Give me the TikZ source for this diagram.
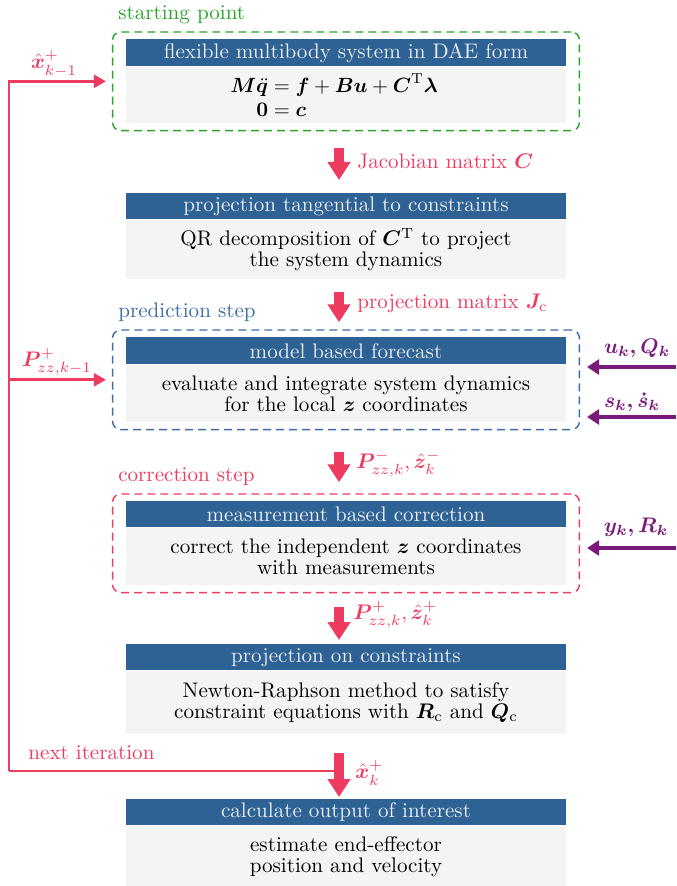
\RequirePackage{fix-cm}
\documentclass[tikz,border=0pt]{standalone}
\usepackage{amsmath,bm}
\usetikzlibrary{arrows.meta,positioning,fit,calc}
\definecolor{hdrblue}{RGB}{46,97,148}
\definecolor{bodygray}{RGB}{244,244,244}
\definecolor{accred}{RGB}{238,60,96}
\definecolor{accpurple}{RGB}{122,26,122}
\definecolor{frgreen}{RGB}{40,165,40}
\definecolor{frblue}{RGB}{60,110,165}
\newsavebox{\eqnbox}
\begin{document}
\fontsize{10.55}{10.5}\selectfont
\setlength{\jot}{1.4pt}%
\sbox{\eqnbox}{\fontsize{10.3}{10.5}\selectfont$\begin{aligned}\bm{M}\ddot{\bm{q}} &= \bm{f}+\bm{B}\bm{u}+\bm{C}^{\mathrm{T}}\bm{\lambda}\\ \bm{0} &= \bm{c}\end{aligned}$}%
\begin{tikzpicture}[x=0.5pt,y=-0.5pt,
 hdr/.style={fill=hdrblue, text=white!90!hdrblue, minimum width=220pt, minimum height=13pt, inner sep=0pt, anchor=north},
 bodybox/.style={fill=bodygray, minimum width=220pt, inner sep=0pt, align=center, anchor=north},
 framebox/.style={draw, dash pattern=on 4pt off 2.5pt, line width=0.7pt, rounded corners=4pt, inner xsep=6.5pt, inner ysep=3.5pt},
 framelabel/.style={anchor=south west, inner xsep=3pt},
 bigarrow/.style={draw=accred, line width=5pt, -{Triangle[width=11pt,length=9pt]}},
 fb/.style={draw=accred, line width=1.3pt},
 fbarrow/.style={fb, -{Triangle[width=6.5pt,length=6pt]}},
 inarrow/.style={draw=accpurple, line width=1.6pt, -{Triangle[width=7.5pt,length=6pt]}},
 redlbl/.style={text=accred},
 purplbl/.style={text=accpurple, font=\boldmath}
]
\useasboundingbox (0,0) rectangle (676,886);

% boxes
\node[hdr, minimum height=13.5pt] (h1) at (346,39) {flexible multibody system in DAE form};
\node[bodybox, minimum height=28pt] (b1) at (h1.south) {};
\node[inner sep=0pt] (e1) at ([xshift=-6pt,yshift=-1.5pt]b1.center) {\usebox{\eqnbox}};

\node[hdr] (h2) at (346,193) {projection tangential to constraints};
\node[bodybox, minimum height=29.5pt] (b2) at (h2.south) {QR decomposition of $\bm{C}^{\mathrm{T}}$ to project\\the system dynamics};

\node[hdr, minimum height=13.5pt] (h3) at (346,337) {model based forecast};
\node[bodybox, minimum height=28.5pt] (b3) at (h3.south) {evaluate and integrate system dynamics\\for the local $\bm{z}$ coordinates};

\node[hdr] (h4) at (346,501) {measurement based correction};
\node[bodybox, minimum height=28.5pt] (b4) at (h4.south) {correct the independent $\bm{z}$ coordinates\\with measurements};

\node[hdr] (h5) at (346,644) {projection on constraints};
\node[bodybox, minimum height=31.5pt] (b5) at (h5.south) {Newton-Raphson method to satisfy\\constraint equations with $\bm{R}_{\mathrm{c}}$ and $\bm{Q}_{\mathrm{c}}$};

\node[hdr] (h6) at (346,799) {calculate output of interest};
\node[bodybox, minimum height=31pt] (b6) at (h6.south) {estimate end-effector\\position and velocity};

% frames
\node[framebox, draw=frgreen, fit=(h1)(b1)] (f1) {};
\node[framebox, draw=frblue, fit=(h3)(b3)] (f3) {};
\node[framebox, draw=accred, fit=(h4)(b4)] (f4) {};
\node[framelabel, text=frgreen] (l1) at (f1.north west) {starting point};
\node[framelabel, text=frblue] (l3) at (f3.north west) {prediction step};
\node[framelabel, text=accred] (l4) at (f4.north west) {correction step};

% main flow arrows
\coordinate (ax) at (339,0);
\draw[bigarrow, shorten <=8.5pt, shorten >=6.5pt] (f1.south -| ax) -- (h2.north -| ax);
\draw[bigarrow, shorten <=6pt, shorten >=3.5pt] (b2.south -| ax) -- (f3.north -| ax);
\draw[bigarrow, shorten <=11pt, shorten >=5.5pt] (f3.south -| ax) -- (f4.north -| ax);
\draw[bigarrow, shorten <=7pt, shorten >=2pt] (f4.south -| ax) -- (h5.north -| ax);
\draw[bigarrow, shorten <=9pt, shorten >=1pt] (b5.south -| ax) -- (h6.north -| ax);

\node[redlbl, anchor=west] (a1) at (350,161) {Jacobian matrix $\bm{C}$};
\node[redlbl, anchor=west] (a2) at (350,303) {projection matrix $\bm{J}_{\mathrm{c}}$};
\node[redlbl, anchor=west] (a3) at (349,464) {$\bm{P}^{-}_{zz,k},\hat{\bm{z}}^{-}_{k}$};
\node[redlbl, anchor=west] (a4) at (346,615) {$\bm{P}^{+}_{zz,k},\hat{\bm{z}}^{+}_{k}$};
\node[redlbl, anchor=west] (a5) at (348,773) {$\hat{\bm{x}}^{+}_{k}$};

% feedback loop
\coordinate (j5) at (339,771);
\coordinate (fbc) at (9,771);
\coordinate (fbtop) at (9,0);
\draw[fb] (j5) -- (fbc);
\draw[fbarrow, shorten >=3pt] (fbc) -- (fbtop |- f1.west) -- (f1.west);
\draw[fbarrow, shorten >=3pt] (fbtop |- f3.west) -- (f3.west);
\node[redlbl, anchor=west] (lni) at (21,753) {next iteration};
\node[redlbl] (lx) at (54,64) {$\hat{\bm{x}}^{+}_{k-1}$};
\node[redlbl] (lp) at (57,362) {$\bm{P}^{+}_{zz,k-1}$};

% inputs
\coordinate (in1) at (676,367);
\coordinate (in2) at (676,417);
\coordinate (in3) at (676,548);
\draw[inarrow, shorten >=3.5pt] (in1) -- (f3.east |- in1);
\draw[inarrow, shorten >=3.5pt] (in2) -- (f3.east |- in2);
\draw[inarrow, shorten >=3.5pt] (in3) -- (f4.east |- in3);
\node[purplbl] (u1) at (637,348) {$\bm{u}_k,\bm{Q}_k$};
\node[purplbl] (u2) at (632,402) {$\bm{s}_k,\dot{\bm{s}}_k$};
\node[purplbl] (u3) at (636,527) {$\bm{y}_k,\bm{R}_k$};
\end{tikzpicture}
\end{document}
